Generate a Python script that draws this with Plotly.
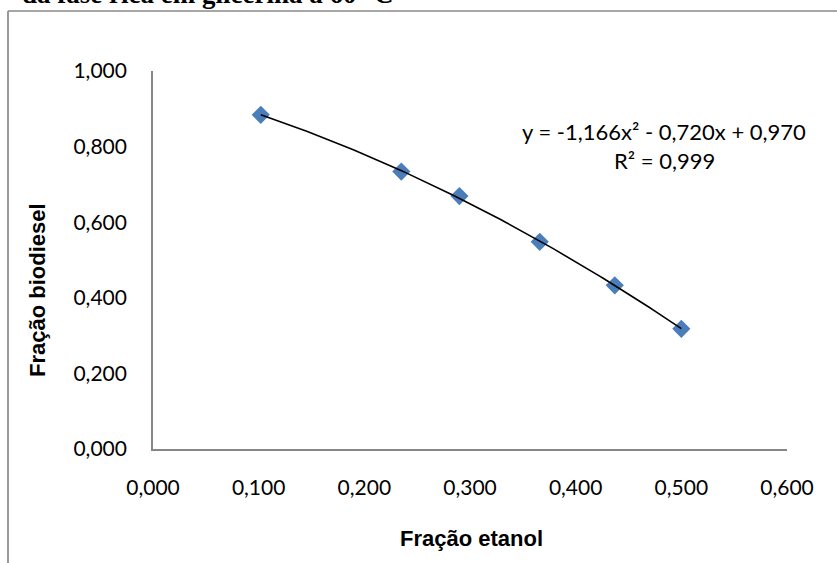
import numpy as np
import plotly.graph_objects as go

# Ethanol fraction vs biodiesel fraction (glycerol-rich phase, 60 °C)
fracao_etanol = [0.102, 0.235, 0.290, 0.366, 0.437, 0.500]
fracao_biodiesel = [0.884, 0.734, 0.669, 0.548, 0.433, 0.318]

# Quadratic trendline coefficients: y = a x² + b x + c
coef_poly = [-1.166, -0.720, 0.970]
r2 = 0.999

x_ticks = [0.0, 0.1, 0.2, 0.3, 0.4, 0.5, 0.6]
y_ticks = [0.0, 0.2, 0.4, 0.6, 0.8, 1.0]

W, H = 837, 563
L, R, T, B = 153, 50, 71, 114
pw, ph = W - L - R, H - T - B


def px(xp):
    return (xp - L) / pw


def py(yp):
    return (H - B - yp) / ph


tick_font = dict(family="Lato, Carlito, Liberation Sans", size=21, color="#000000")
eq_font = dict(family="Lato, Carlito, Liberation Sans", size=22, color="#000000")
title_font = dict(family="Liberation Sans Narrow, Arial Narrow, Liberation Sans",
                  size=22, color="#000000")

xs = np.linspace(min(fracao_etanol), max(fracao_etanol), 120)
ys = np.polyval(coef_poly, xs)

fig = go.Figure()
fig.add_trace(go.Scatter(
    x=fracao_etanol, y=fracao_biodiesel, mode="markers",
    marker=dict(symbol="diamond", size=14, color="#4a7ebb", line=dict(width=0)),
    showlegend=False, hoverinfo="x+y",
))
fig.add_trace(go.Scatter(
    x=xs, y=ys, mode="lines", line=dict(color="#000000", width=1.6),
    showlegend=False, hoverinfo="skip",
))

axis_common = dict(
    showgrid=False, zeroline=False, showline=True, linecolor="#868686",
    linewidth=1.7, ticks="", tickformat=".3f", tickfont=tick_font,
)
fig.update_xaxes(range=[0, 0.6], tickvals=x_ticks, ticklabelstandoff=19, **axis_common)
fig.update_yaxes(range=[0, 1.0], tickvals=y_ticks, ticklabelstandoff=20, **axis_common)

a, b, c = coef_poly
eq_text = (f"y = {a:.3f}x² - {abs(b):.3f}x + {c:.3f}").replace(".", ",")
r2_text = f"R² = {r2:.3f}".replace(".", ",")

paper = dict(xref="paper", yref="paper", showarrow=False)
annotations = [
    dict(text=eq_text, x=px(664), y=py(131), xanchor="center", yanchor="middle",
         font=eq_font, **paper),
    dict(text=r2_text, x=px(664), y=py(160), xanchor="center", yanchor="middle",
         font=eq_font, **paper),
    dict(text="<b>Fração etanol</b>", x=px(471), y=py(538), xanchor="center",
         yanchor="middle", font=title_font, **paper),
    dict(text="<b>Fração biodiesel</b>", x=px(37), y=py(290), xanchor="center",
         yanchor="middle", textangle=-90, font=title_font, **paper),
    dict(text="<b>da fase rica em glicerina a 60 °C</b>", x=px(20), y=py(11.5),
         xanchor="left", yanchor="bottom",
         font=dict(family="Liberation Serif, Times New Roman, serif", size=27,
                   color="#000000"), **paper),
]

frame = dict(color="#898989", width=1.7)
shapes = [
    dict(type="line", xref="paper", yref="paper", x0=px(8), x1=px(850),
         y0=py(11), y1=py(11), line=frame),
    dict(type="line", xref="paper", yref="paper", x0=px(8), x1=px(8),
         y0=py(11), y1=py(580), line=frame),
]

fig.update_layout(
    width=W, height=H, margin=dict(l=L, r=R, t=T, b=B),
    paper_bgcolor="#ffffff", plot_bgcolor="#ffffff",
    separators=",.", annotations=annotations, shapes=shapes,
)

fig.write_html("out.html")
